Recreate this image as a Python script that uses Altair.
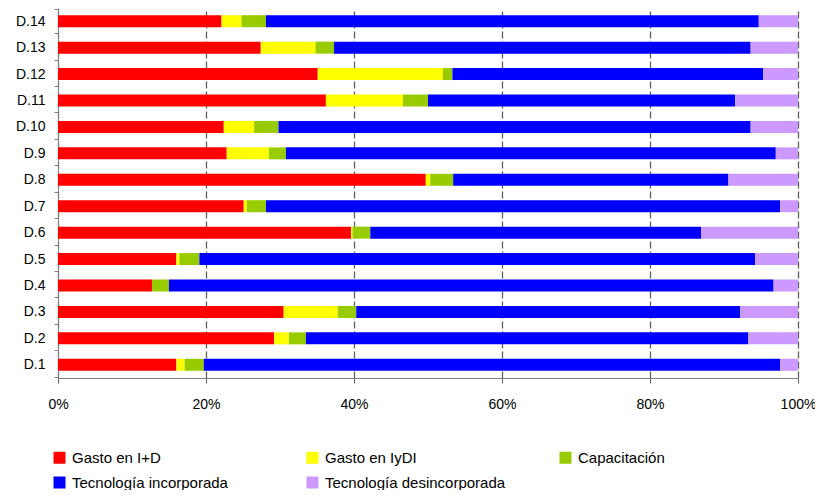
import altair as alt
import pandas as pd

categories = ["D.1", "D.2", "D.3", "D.4", "D.5", "D.6", "D.7",
              "D.8", "D.9", "D.10", "D.11", "D.12", "D.13", "D.14"]
series = ["Gasto en I+D", "Gasto en IyDI", "Capacitación",
          "Tecnología incorporada", "Tecnología desincorporada"]
colors = ["#FF0000", "#FFFF00", "#99CC00", "#0000FF", "#CC99FF"]

gasto_id = [16.0, 29.2, 30.5, 12.7, 16.0, 39.6, 25.1, 49.7, 22.8, 22.4, 36.2, 35.1, 27.4, 22.1]
gasto_iydi = [1.1, 2.0, 7.3, 0.0, 0.4, 0.2, 0.4, 0.6, 5.7, 4.1, 10.4, 16.9, 7.4, 2.7]
capacitacion = [2.6, 2.3, 2.5, 2.3, 2.7, 2.4, 2.6, 3.1, 2.3, 3.3, 3.4, 1.3, 2.5, 3.3]
tec_incorporada = [77.9, 59.8, 51.9, 81.7, 75.1, 44.7, 69.5, 37.2, 66.2, 63.8, 41.5, 42.0, 56.3, 66.6]
tec_desincorporada = [2.4, 6.7, 7.8, 3.3, 5.8, 13.1, 2.4, 9.4, 3.0, 6.4, 8.5, 4.7, 6.4, 5.3]

values = [gasto_id, gasto_iydi, capacitacion, tec_incorporada, tec_desincorporada]
rows = []
for si, (s, vals) in enumerate(zip(series, values)):
    for c, v in zip(categories, vals):
        rows.append({"cat": c, "serie": s, "valor": v, "orden": si})
df = pd.DataFrame(rows)

FONT = "Liberation Sans"

chart = alt.Chart(df).mark_bar(size=12).encode(
    y=alt.Y("cat:N", sort=categories[::-1], title=None,
            axis=alt.Axis(tickBand="extent", labelFont=FONT, labelFontSize=14,
                          labelColor="#000000", domainColor="#808080",
                          tickColor="#808080", tickSize=4, labelPadding=9,
                          grid=False)),
    x=alt.X("valor:Q", stack="normalize", title=None,
            scale=alt.Scale(domain=[0, 1], nice=False),
            axis=alt.Axis(format="%", values=[0, 0.2, 0.4, 0.6, 0.8, 1.0],
                          labelFont=FONT, labelFontSize=14, labelColor="#000000",
                          domainColor="#808080", tickColor="#606060", tickSize=5,
                          labelPadding=14, grid=True, gridColor="#606060",
                          gridDash=[7, 3], gridWidth=1.3, labelFlush=False)),
    color=alt.Color("serie:N", sort=series,
                    scale=alt.Scale(domain=series, range=colors),
                    legend=alt.Legend(title=None, orient="none", direction="horizontal",
                                      legendX=-6, legendY=442, columns=3,
                                      symbolType="square",
                                      symbolSize=144, symbolStrokeWidth=0,
                                      labelFont=FONT, labelFontSize=15,
                                      labelColor="#000000", columnPadding=52,
                                      rowPadding=9, gridAlign="all",
                                      labelOffset=5, labelLimit=300)),
    order=alt.Order("orden:Q", sort="ascending"),
).properties(
    width=740, height=370,
    autosize=alt.AutoSizeParams(type="none"),
    padding={"left": 50, "top": 0, "right": 17, "bottom": 112},
).configure_view(stroke=None)

chart.save("out.html", embed_options={"renderer": "svg", "actions": False})
